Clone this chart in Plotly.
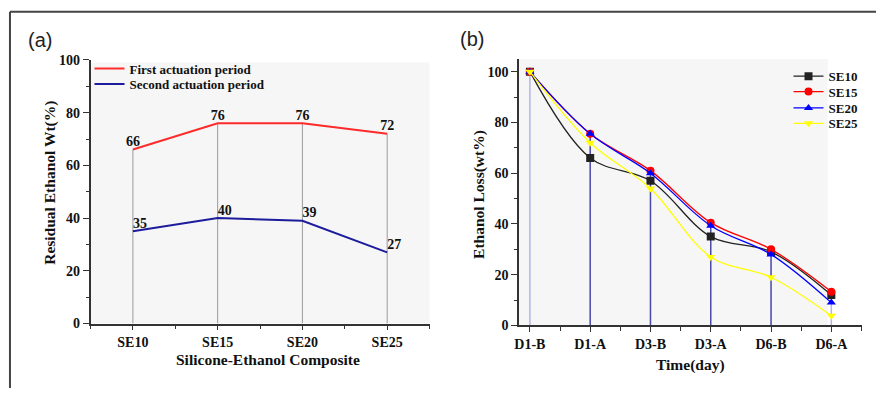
import plotly.graph_objects as go

# ---------------- data ----------------
comp_labels = ["SE10", "SE15", "SE20", "SE25"]
first_period = [66, 76, 76, 72]
second_period = [35, 40, 39, 27]

time_labels = ["D1-B", "D1-A", "D3-B", "D3-A", "D6-B", "D6-A"]
se10 = [100, 66, 57, 35, 29, 12]
se15 = [100, 75.5, 61, 40.5, 30, 13.3]
se20 = [100, 75.5, 60, 39.3, 28, 9]
se25 = [100, 72, 54, 27, 19, 3.8]

W, H = 876, 396
SERIF = "Liberation Serif"


def px2x(px):
    return px / W


def py2y(py):
    return 1 - py / H


fig = go.Figure()

xa = list(range(len(comp_labels)))
xb = list(range(len(time_labels)))

# ---- panel (a) drop lines ----
dx, dy = [], []
for i, v in zip(xa, first_period):
    dx += [i, i, None]
    dy += [0, v, None]
fig.add_trace(go.Scatter(x=dx, y=dy, mode="lines", line=dict(color="#9a9a9a", width=1),
                         showlegend=False, hoverinfo="skip", xaxis="x", yaxis="y"))

lab_font = dict(family=SERIF, size=14, color="#111", weight="bold")
fig.add_trace(go.Scatter(x=xa, y=first_period, mode="lines+text", name="First actuation period",
                         line=dict(color="#ff2a2a", width=2),
                         text=[str(v) for v in first_period], textposition="top center",
                         textfont=lab_font, xaxis="x", yaxis="y", legend="legend"))
fig.add_trace(go.Scatter(x=xa, y=second_period, mode="lines+text", name="Second actuation period",
                         line=dict(color="#1c1c9c", width=2),
                         text=[str(v) for v in second_period], textposition="top right",
                         textfont=lab_font, xaxis="x", yaxis="y", legend="legend2"))

# ---- panel (b) drop lines ----
light_idx = [0, len(xb) - 1]
lx, ly, kx, ky = [], [], [], []
for i, v in zip(xb, se20):
    if i in light_idx:
        lx += [i, i, None]; ly += [0, v, None]
    else:
        kx += [i, i, None]; ky += [0, v, None]
fig.add_trace(go.Scatter(x=lx, y=ly, mode="lines", line=dict(color="#b4b4ea", width=1.5),
                         showlegend=False, hoverinfo="skip", xaxis="x2", yaxis="y2"))
fig.add_trace(go.Scatter(x=kx, y=ky, mode="lines", line=dict(color="#4848a8", width=1.5),
                         showlegend=False, hoverinfo="skip", xaxis="x2", yaxis="y2"))

series_b = [
    ("SE10", se10, "#222222", "square"),
    ("SE15", se15, "#ff0000", "circle"),
    ("SE20", se20, "#0000ff", "triangle-up"),
    ("SE25", se25, "#ffff00", "triangle-down"),
]
for k, (name, vals, col, sym) in enumerate(series_b):
    fig.add_trace(go.Scatter(x=xb, y=vals, mode="lines+markers", name=name,
                             line=dict(color=col, width=1.3, shape="spline", smoothing=1.0),
                             marker=dict(symbol=sym, size=8, color=col),
                             xaxis="x2", yaxis="y2", legend="legend%d" % (k + 3)))

tickfont = dict(family=SERIF, size=14, color="#111", weight="bold")
axcol = "#333333"

common_y = dict(showline=True, linecolor=axcol, linewidth=1.5, ticks="outside", ticklen=6,
                tickcolor=axcol, tickwidth=1.2, tickfont=tickfont, showgrid=False, zeroline=False,
                minor=dict(ticks="outside", ticklen=3, dtick=10, tickcolor=axcol, showgrid=False))
common_x = dict(showline=True, linecolor=axcol, linewidth=1.5, ticks="outside", ticklen=5,
                tickcolor=axcol, tickwidth=1.2, tickfont=tickfont, showgrid=False, zeroline=False,
                minor=dict(ticks="outside", ticklen=4, dtick=0.5, tick0=0, tickcolor=axcol, showgrid=False))

fig.update_layout(
    width=W, height=H, margin=dict(l=0, r=0, t=0, b=0),
    paper_bgcolor="white", plot_bgcolor="rgba(0,0,0,0)",
    xaxis=dict(domain=[px2x(86), px2x(427)], range=[-0.5, 3.5], tickvals=xa, ticktext=comp_labels,
               anchor="y", **common_x),
    yaxis=dict(domain=[py2y(329), py2y(55)], range=[0, 100], anchor="x",
               tickvals=[0, 20, 40, 60, 80, 100], **common_y),
    xaxis2=dict(domain=[px2x(517), px2x(862)], range=[-0.18, 5.51], tickvals=xb, ticktext=time_labels,
                anchor="y2", **common_x),
    yaxis2=dict(domain=[py2y(331), py2y(54)], range=[0, 105], anchor="x2",
                tickvals=[0, 20, 40, 60, 80, 100], **common_y),
    showlegend=True,
)

# one legend per entry so the entries can sit as tightly as in the reference
leg_font = dict(family=SERIF, size=13, color="#111", weight="bold")
leg_pos = {
    "legend": (85, 64),
    "legend2": (85, 80),
    "legend3": (788, 72),
    "legend4": (788, 88),
    "legend5": (788, 105),
    "legend6": (788, 121),
}
for key, (lxp, lyp) in leg_pos.items():
    fig.update_layout({key: dict(x=px2x(lxp), y=py2y(lyp), xanchor="left", yanchor="middle",
                                 bgcolor="rgba(0,0,0,0)", font=leg_font, itemwidth=30,
                                 borderwidth=0)})

shapes = [
    dict(type="rect", xref="x domain", yref="y domain", x0=0, x1=1, y0=0, y1=0.99,
         fillcolor="#f6f6f6", line=dict(width=0), layer="below"),
    dict(type="rect", xref="x2 domain", yref="y2 domain", x0=0, x1=0.9, y0=0, y1=1,
         fillcolor="#f6f6f6", line=dict(width=0), layer="below"),
    dict(type="line", xref="paper", yref="paper", x0=px2x(5), x1=1, y0=py2y(5), y1=py2y(5),
         line=dict(color="#444", width=2)),
    dict(type="line", xref="paper", yref="paper", x0=px2x(5), x1=px2x(5), y0=py2y(5), y1=0,
         line=dict(color="#444", width=2)),
]
fig.update_layout(shapes=shapes)

title_font = dict(family=SERIF, size=15.5, color="#111", weight="bold")
ann = [
    dict(text="(a)", x=px2x(35), y=py2y(34), font=dict(family="Liberation Sans", size=20, color="#222")),
    dict(text="(b)", x=px2x(470), y=py2y(33), font=dict(family="Liberation Sans", size=20, color="#222")),
    dict(text="Residual Ethanol Wt(%)", x=px2x(45), y=py2y(183), textangle=-90, font=title_font),
    dict(text="Silicone-Ethanol Composite", x=px2x(265), y=py2y(366), font=title_font),
    dict(text="Ethanol Loss(wt%)", x=px2x(476), y=py2y(195), textangle=-90, font=title_font),
    dict(text="Time(day)", x=px2x(689), y=py2y(372), font=title_font),
]
for a in ann:
    a.update(xref="paper", yref="paper", showarrow=False, xanchor="center", yanchor="middle")
fig.update_layout(annotations=ann)

fig.write_html(
    "out.html",
    config={"displayModeBar": False},
    post_script="document.documentElement.style.margin='0';document.body.style.margin='0';"
                "document.body.style.overflow='hidden';",
)
